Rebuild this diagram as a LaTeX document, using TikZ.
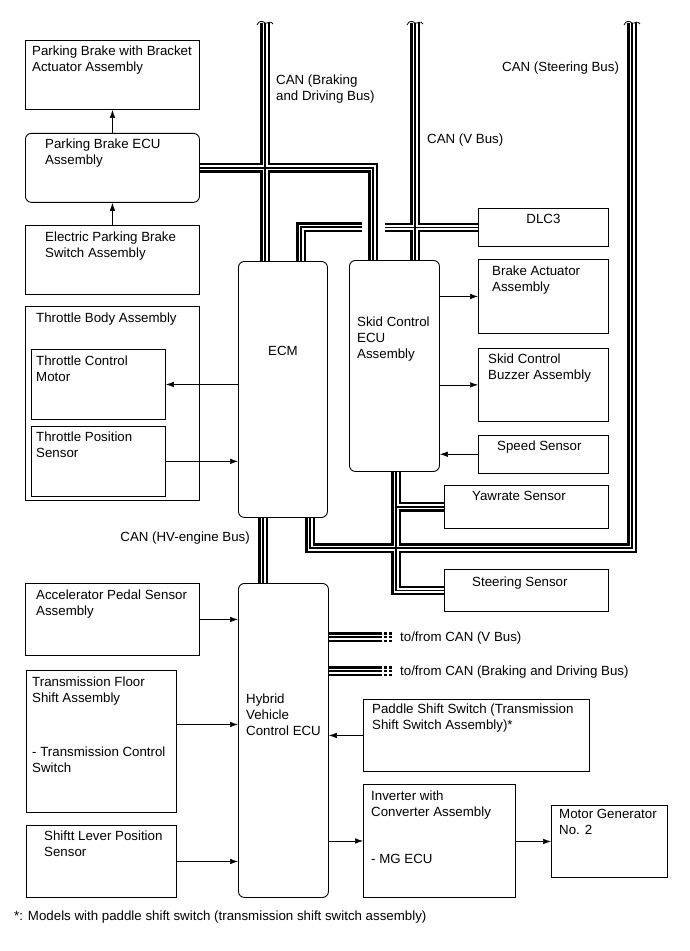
\documentclass[tikz,border=0pt]{standalone}
\usepackage{fontspec}
\setmainfont{Liberation Sans}
\usetikzlibrary{positioning, arrows.meta}

\begin{document}
\begin{tikzpicture}[
    x=1pt, y=-1pt,
    font=\fontsize{13.3}{16}\selectfont,
    blk/.style={draw, line width=0.9pt, anchor=north west, inner sep=0},
    ecu/.style={blk, rounded corners=6pt},
    lbl/.style={anchor=north west, inner sep=0, align=left},
    arr/.style={-{Latex[length=8pt,width=5.5pt]}, line width=0.6pt},
    busouter/.style={line width=9.5pt},
    businner/.style={line width=5pt, white},
    buscore/.style={line width=1.3pt},
    stubdash/.style={dash pattern=on 3pt off 2pt}
  ]
    \useasboundingbox (0,0) rectangle (689,951);

    % parking brake
    \node[blk, minimum width=174pt, minimum height=69pt] (pbact) at (25,40) {};
    \node[ecu, minimum width=174pt, minimum height=69pt, below=23pt of pbact] (pbecu) {};
    \node[blk, minimum width=174pt, minimum height=69pt, below=22pt of pbecu] (epbsw) {};

    % throttle body
    \node[blk, minimum width=174pt, minimum height=194pt] (tb) at (25,306) {};
    \node[blk, minimum width=134pt, minimum height=70pt] (tcm) at (31,349) {};
    \node[blk, minimum width=134pt, minimum height=70pt, below=6pt of tcm] (tps) {};

    % ECUs
    \node[ecu, minimum width=89pt, minimum height=256pt] (ecm) at (238,261) {};
    \node[ecu, minimum width=90pt, minimum height=211pt] (skid) at (349,260) {};
    \node[ecu, minimum width=90pt, minimum height=314pt] (hv) at (238,583) {};

    % skid control side
    \node[blk, minimum width=130pt, minimum height=38pt] (dlc) at (478,208) {};
    \node[blk, minimum width=130pt, minimum height=74pt] (bact) at (478,259) {};
    \node[blk, minimum width=130pt, minimum height=73pt, below=14pt of bact] (buzz) {};
    \node[blk, minimum width=130pt, minimum height=38pt, below=13pt of buzz] (speed) {};
    \node[blk, minimum width=164pt, minimum height=43pt] (yaw) at (444,485) {};
    \node[blk, minimum width=164pt, minimum height=42pt] (steer) at (444,569) {};

    % hybrid side
    \node[blk, minimum width=174pt, minimum height=72pt] (accel) at (25,583) {};
    \node[blk, minimum width=150pt, minimum height=142pt] (tfs) at (26,670) {};
    \node[blk, minimum width=150pt, minimum height=72pt] (slp) at (26,825) {};
    \node[blk, minimum width=226pt, minimum height=72pt] (paddle) at (363,699) {};
    \node[blk, minimum width=152pt, minimum height=113pt] (inv) at (363,784) {};
    \node[blk, minimum width=116pt, minimum height=72pt] (mg) at (551,805) {};

    % texts in the blocks
    \node[lbl] (pbacttxt) at ([xshift=7pt,yshift=-5.5pt]pbact.north west) {Parking Brake with Bracket\\Actuator Assembly};
    \node[lbl] (pbecutxt) at ([xshift=20pt,yshift=-5.5pt]pbecu.north west) {Parking Brake ECU\\Assembly};
    \node[lbl] (epbswtxt) at ([xshift=20pt,yshift=-6.5pt]epbsw.north west) {Electric Parking Brake\\Switch Assembly};
    \node[lbl] (tbtxt) at ([xshift=11pt,yshift=-6.5pt]tb.north west) {Throttle Body Assembly};
    \node[lbl] (tcmtxt) at ([xshift=5pt,yshift=-6.5pt]tcm.north west) {Throttle Control\\Motor};
    \node[lbl] (tpstxt) at ([xshift=5pt,yshift=-5.5pt]tps.north west) {Throttle Position\\Sensor};
    \node (ecmtxt) at ([yshift=39pt]ecm.center) {ECM};
    \node[lbl] (skidtxt) at ([xshift=8pt,yshift=-56.5pt]skid.north west) {Skid Control\\ECU\\Assembly};
    \node (dlctxt) at ([yshift=9pt]dlc.center) {DLC3};
    \node[lbl] (bacttxt) at ([xshift=14pt,yshift=-6.5pt]bact.north west) {Brake Actuator\\Assembly};
    \node[lbl] (buzztxt) at ([xshift=10pt,yshift=-5.5pt]buzz.north west) {Skid Control\\Buzzer Assembly};
    \node[lbl] (speedtxt) at ([xshift=19pt,yshift=-5.5pt]speed.north west) {Speed Sensor};
    \node[lbl] (yawtxt) at ([xshift=28pt,yshift=-6.5pt]yaw.north west) {Yawrate Sensor};
    \node[lbl] (steertxt) at ([xshift=28pt,yshift=-7.5pt]steer.north west) {Steering Sensor};
    \node[lbl] (acceltxt) at ([xshift=11pt,yshift=-6.5pt]accel.north west) {Accelerator Pedal Sensor\\Assembly};
    \node[lbl] (tfstxt) at ([xshift=6pt,yshift=-6.5pt]tfs.north west) {Transmission Floor\\Shift Assembly\\[38pt]- Transmission Control\\Switch};
    \node[lbl] (slptxt) at ([xshift=18pt,yshift=-5.5pt]slp.north west) {Shiftt Lever Position\\Sensor};
    \node[lbl] (hvtxt) at ([xshift=8pt,yshift=-110.5pt]hv.north west) {Hybrid\\Vehicle\\Control ECU};
    \node[lbl] (paddletxt) at ([xshift=9pt,yshift=-4.5pt]paddle.north west) {Paddle Shift Switch (Transmission\\Shift Switch Assembly)*};
    \node[lbl] (invtxt) at ([xshift=8pt,yshift=-6.5pt]inv.north west) {Inverter with\\Converter Assembly\\[31pt]- MG ECU};
    \node[lbl] (mgtxt) at ([xshift=8pt,yshift=-4.5pt]mg.north west) {Motor Generator\\No. 2};

    % signal lines
    \draw[arr] (pbecu) -- (pbact);
    \draw[arr] (epbsw) -- (pbecu);
    \draw[arr] (ecm.west |- tcm.east) -- (tcm.east);
    \draw[arr] (tps.east) -- (tps.east -| ecm.west);
    \draw[arr] (skid.east |- bact.west) -- (bact.west);
    \draw[arr] (skid.east |- buzz.west) -- (buzz.west);
    \draw[arr] (speed.west) -- (speed.west -| skid.east);
    \draw[arr] (accel.east) -- (accel.east -| hv.west);
    \draw[arr] ([yshift=17pt]tfs.east) -- ([yshift=17pt]tfs.east -| hv.west);
    \draw[arr] (slp.east) -- (slp.east -| hv.west);
    \draw[arr] (paddle.west) -- (paddle.west -| hv.east);
    \draw[arr] (hv.east |- inv.west) -- (inv.west);
    \draw[arr] (inv.east |- mg.west) -- (mg.west);

    % CAN buses
    \coordinate (bdtop) at (265,23);
    \coordinate (vtop) at (415,23);
    \coordinate (sttop) at (632,23);
    \coordinate (bdjog) at (373,166);
    \coordinate (vleft) at (301,227);
    \coordinate (vgap) at (362,227);
    \coordinate (vright) at (385,227);
    \coordinate (stcorner) at (632,548);
    \coordinate (stleft) at (310,548);
    \coordinate (stdrop) at (396,590);
    \coordinate (hvbus) at (263,540);
    \coordinate (vstub) at (379,637);
    \coordinate (vstubend) at (392,637);
    \coordinate (bdstub) at (379,671);
    \coordinate (bdstubend) at (392,671);

    \foreach \layer in {busouter, businner, buscore} {
      \draw[\layer] (bdtop) -- (bdtop |- ecm.north);
      \draw[\layer] (pbecu.east) -- (pbecu.east -| bdjog) -- (bdjog |- skid.north);
      \draw[\layer] (vtop) -- (vtop |- skid.north);
      \draw[\layer] (vleft |- ecm.north) -- (vleft) -- (vgap);
      \draw[\layer] (vright |- dlc.west) -- (dlc.west);
      \draw[\layer] (sttop) -- (stcorner) -- (stleft) -- (stleft |- ecm.south);
      \draw[\layer] (stdrop |- skid.south) -- (stdrop |- steer.west) -- (steer.west);
      \draw[\layer] (stdrop |- yaw.west) -- (yaw.west);
      \draw[\layer] (hvbus |- ecm.south) -- (hvbus |- hv.north);
      \draw[\layer] (vstub -| hv.east) -- (vstub);
      \draw[\layer, stubdash] (vstub) -- (vstubend);
      \draw[\layer] (bdstub -| hv.east) -- (bdstub);
      \draw[\layer, stubdash] (bdstub) -- (bdstubend);
    }
    \foreach \t in {bdtop, vtop, sttop}
      \draw[line width=0.8pt] ([xshift=-8pt,yshift=-2pt]\t) .. controls ([xshift=-6pt,yshift=3pt]\t) and ([xshift=-2pt,yshift=2pt]\t) .. (\t) .. controls ([xshift=2pt,yshift=-1pt]\t) and ([xshift=6pt,yshift=3pt]\t) .. ([xshift=8pt,yshift=-1pt]\t);

    % bus labels
    \node[lbl] (bdlbl) at (276,74.5) {CAN (Braking\\and Driving Bus)};
    \node[lbl] (vlbl) at (427,133.5) {CAN (V Bus)};
    \node[lbl] (stlbl) at (502,61.5) {CAN (Steering Bus)};
    \node[lbl, anchor=north east] (hvlbl) at (250,532) {CAN (HV-engine Bus)};
    \node[lbl] (vstublbl) at (400,631.5) {to/from CAN (V Bus)};
    \node[lbl] (bdstublbl) at (400,665.5) {to/from CAN (Braking and Driving Bus)};

    \node[lbl] (note) at (14,910.5) {*: Models with paddle shift switch (transmission shift switch assembly)};
  \end{tikzpicture}
\end{document}
